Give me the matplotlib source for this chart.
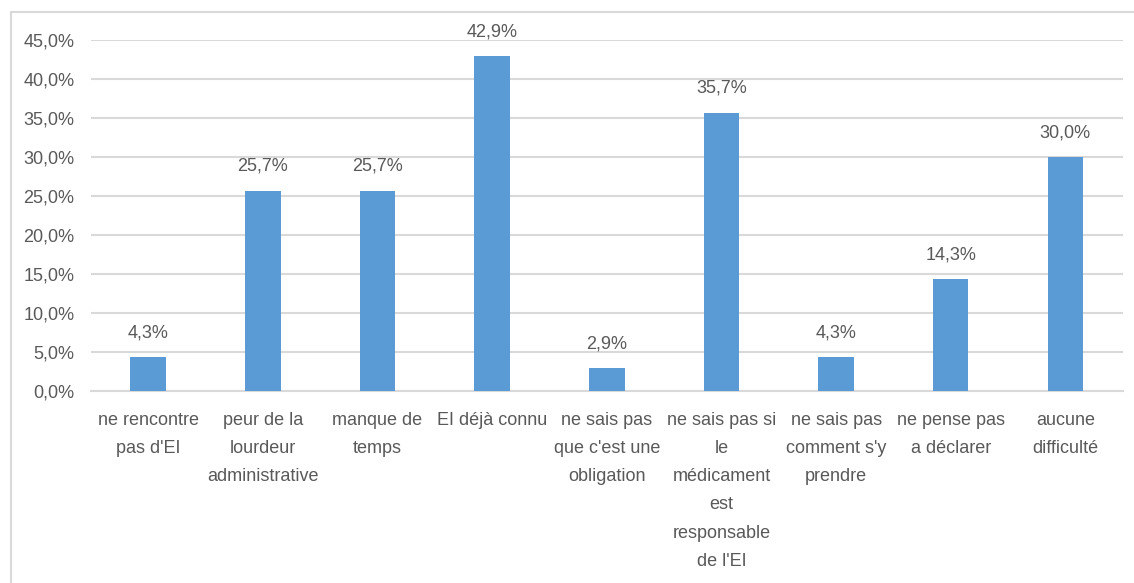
import matplotlib
matplotlib.use("Agg")
import matplotlib.pyplot as plt
from matplotlib.patches import Rectangle
from matplotlib.ticker import FuncFormatter

categories = [
    "ne rencontre\npas d'EI",
    "peur de la\nlourdeur\nadministrative",
    "manque de\ntemps",
    "EI déjà connu",
    "ne sais pas\nque c'est une\nobligation",
    "ne sais pas si\nle\nmédicament\nest\nresponsable\nde l'EI",
    "ne sais pas\ncomment s'y\nprendre",
    "ne pense pas\na déclarer",
    "aucune\ndifficulté",
]
values = [4.3, 25.7, 25.7, 42.9, 2.9, 35.7, 4.3, 14.3, 30.0]
y_ticks = [0, 5, 10, 15, 20, 25, 30, 35, 40, 45]

bar_color = "#5B9BD5"
text_color = "#595959"
grid_color = "#D9D9D9"

plt.rcParams['font.family'] = ['Liberation Sans', 'DejaVu Sans']

def fr_pct(v, pos=None):
    return "{:.1f}%".format(v).replace(".", ",")

fig = plt.figure(figsize=(11.34, 5.83), dpi=100)
ax = fig.add_axes([0.0802, 0.3293, 0.9098, 0.6021])

# outer chart frame (cut off on the right and bottom)
fig.patches.append(Rectangle((11 / 1134, -0.1), 1.2, 0.1 + 1 - 12 / 583,
                             transform=fig.transFigure, fill=False,
                             edgecolor=grid_color, linewidth=1.5))

x = range(len(categories))
ax.bar(x, values, width=0.31, color=bar_color, zorder=3)

for xi, v in zip(x, values):
    ax.annotate(fr_pct(v), (xi, v), xytext=(0, 17.5), textcoords="offset points",
                ha="center", va="center", fontsize=13, color=text_color)

ax.set_xlim(-0.5, len(categories) - 0.5)
ax.set_ylim(0, 45)
ax.set_yticks(y_ticks)
ax.yaxis.set_major_formatter(FuncFormatter(fr_pct))
ax.set_xticks(list(x))
ax.set_xticklabels(categories, fontsize=13, color=text_color, linespacing=1.86,
                   va="top")
ax.tick_params(axis="y", length=0, pad=12, labelsize=13, labelcolor=text_color)
ax.tick_params(axis="x", length=0, pad=15)

ax.grid(axis="y", color=grid_color, linewidth=1.5, zorder=0)
for side in ["top", "right", "left"]:
    ax.spines[side].set_visible(False)
ax.spines["bottom"].set_color(grid_color)
ax.spines["bottom"].set_linewidth(1.5)

fig.savefig("out.png", dpi=100)
